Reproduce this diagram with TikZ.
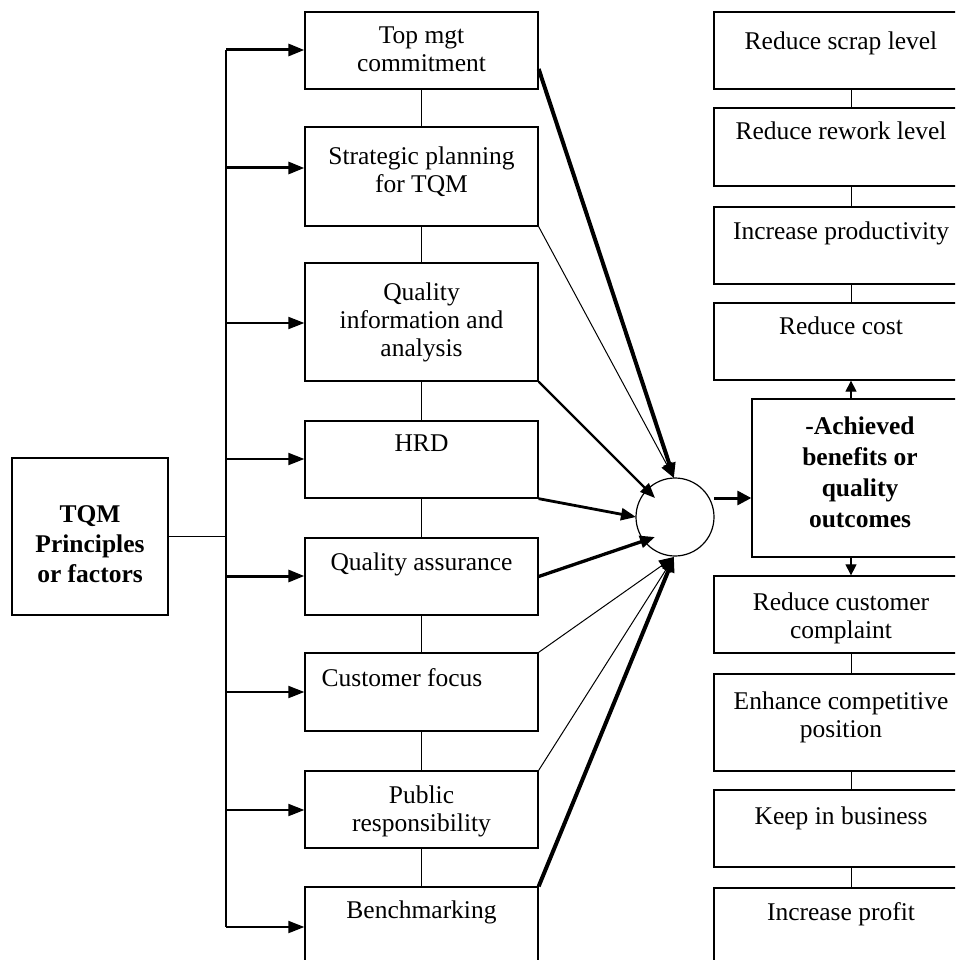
\documentclass[tikz,border=0pt]{standalone}
\usepackage{fontspec}
\setmainfont{Liberation Serif}
\usetikzlibrary{arrows.meta}
\begin{document}
\begin{tikzpicture}[x=1pt,y=-1pt,
  box/.style={draw, line width=1.3pt, rectangle, inner sep=0pt},
  lbox/.style={box, minimum width=233pt},
  rbox/.style={box, minimum width=274pt},
  txt/.style={anchor=north, inner sep=0pt, align=center, font=\fontsize{25.5}{28}\selectfont},
  btxt/.style={anchor=north, inner sep=0pt, align=center, font=\fontsize{25.5}{30}\selectfont\bfseries},
  link/.style={line width=1pt},
  feed/.style={-{Triangle[length=16pt,width=12pt]}},
  conv/.style={-{Triangle[length=15pt,width=12pt]}},
  vert/.style={line width=1.2pt, -{Triangle[length=11pt,width=11pt]}},
]
\useasboundingbox (0,0) rectangle (955,960);
\clip (0,0) rectangle (955,960);

% left column boxes
\node[lbox, minimum height=77pt]  (tm)  at (421.5,50.5)  {};
\node[lbox, minimum height=99pt]  (sp)  at (421.5,176.5) {};
\node[lbox, minimum height=118pt] (qi)  at (421.5,322)   {};
\node[lbox, minimum height=77pt]  (hrd) at (421.5,459.5) {};
\node[lbox, minimum height=77pt]  (qa)  at (421.5,576.5) {};
\node[lbox, minimum height=78pt]  (cf)  at (421.5,692)   {};
\node[lbox, minimum height=77pt]  (pr)  at (421.5,809.5) {};
\node[lbox, minimum height=113pt] (bm)  at (421.5,943.5) {};

\node[txt] (tmt)  at (421.5,27)  {Top mgt\\commitment};
\node[txt] (spt)  at (421.5,147) {Strategic planning\\for TQM};
\node[txt] (qit)  at (421.5,283) {Quality\\information and\\analysis};
\node[txt] (hrdt) at (421.5,435) {HRD};
\node[txt] (qat)  at (421.5,553) {Quality assurance};
\node[txt] (cft)  at (402,668)   {Customer focus};
\node[txt] (prt)  at (421.5,786) {Public\\responsibility};
\node[txt] (bmt)  at (421.5,901) {Benchmarking};

% TQM box
\node[box, minimum width=156pt, minimum height=157pt] (tqm) at (90,536.5) {};
\node[btxt] (tqmt) at (90,505) {TQM\\Principles\\or factors};

% right column boxes
\node[rbox, minimum height=77pt]  (scrap)  at (851,50.5)  {};
\node[rbox, minimum height=78pt]  (rework) at (851,147)   {};
\node[rbox, minimum height=77pt]  (prod)   at (851,245.5) {};
\node[rbox, minimum height=77pt]  (cost)   at (851,341.5) {};
\node[box, minimum width=238pt, minimum height=158pt] (ach) at (871,478) {};
\node[rbox, minimum height=77pt]  (comp)   at (851,614.5) {};
\node[rbox, minimum height=97pt]  (enh)    at (851,722.5) {};
\node[rbox, minimum height=77pt]  (keep)   at (851,828.5) {};
\node[rbox, minimum height=112pt] (profit) at (851,944)   {};

\node[txt] (scrapt)  at (841,32)  {Reduce scrap level};
\node[txt] (reworkt) at (841,122) {Reduce rework level};
\node[txt] (prodt)   at (841,222) {Increase productivity};
\node[txt] (costt)   at (841,317) {Reduce cost};
\node[btxt, font=\fontsize{25.5}{31}\selectfont\bfseries] (acht) at (860,417) {-Achieved\\benefits or\\quality\\outcomes};
\node[txt] (compt)   at (841,593) {Reduce customer\\complaint};
\node[txt] (enht)    at (841,692) {Enhance competitive\\position};
\node[txt] (keept)   at (841,807) {Keep in business};
\node[txt] (profitt) at (841,902) {Increase profit};

% circle
\node[draw, circle, minimum size=78pt, inner sep=0pt, line width=1.2pt] (c) at (675,517) {};

% vertical links between boxes
\foreach \a/\b in {tm/sp, sp/qi, qi/hrd, hrd/qa, qa/cf, cf/pr, pr/bm,
                   scrap/rework, rework/prod, prod/cost, comp/enh, enh/keep, keep/profit}
  \draw[link] (\a.south) -- (\b.north);

% bus
\coordinate (b1) at (226,50);
\coordinate (b2) at (226,168);
\coordinate (b3) at (226,323);
\coordinate (b4) at (226,459);
\coordinate (b5) at (226,576);
\coordinate (b6) at (226,692);
\coordinate (b7) at (226,810);
\coordinate (b8) at (226,927);
\draw[line width=1.5pt] (b1) -- (b8);
\draw[link] (tqm.east) -- (tqm.east -| b1);
\draw[feed, line width=3pt] (b1) -- (b1 -| tm.west);
\draw[feed, line width=3pt] (b2) -- (b2 -| sp.west);
\draw[feed, line width=2pt] (b3) -- (b3 -| qi.west);
\draw[feed, line width=2pt] (b4) -- (b4 -| hrd.west);
\draw[feed, line width=3pt] (b5) -- (b5 -| qa.west);
\draw[feed, line width=2pt] (b6) -- (b6 -| cf.west);
\draw[feed, line width=2pt] (b7) -- (b7 -| pr.west);
\draw[feed, line width=2pt] (b8) -- (b8 -| bm.west);

% converging arrows
\coordinate (tipTop) at (674,478);
\coordinate (tipQI)  at (655,498);
\coordinate (tipHRD) at (636,517);
\coordinate (tipQA)  at (655,537);
\coordinate (tipBot) at (674,557);
\draw[conv, line width=4pt]   ([yshift=-18.5pt]tm.east) -- (tipTop);
\draw[conv, line width=1pt]   (sp.south east) -- (tipTop);
\draw[conv, line width=2.3pt] (qi.south east) -- (tipQI);
\draw[conv, line width=2.8pt] (hrd.south east) -- (tipHRD);
\draw[conv, line width=3.3pt] (qa.east) -- (tipQA);
\draw[conv, line width=1pt]   (cf.north east) -- (tipBot);
\draw[conv, line width=1pt]   (pr.north east) -- (tipBot);
\draw[conv, line width=4pt]   (bm.north east) -- (tipBot);

% circle to outcomes
\coordinate (ya) at (714,498);
\draw[line width=3pt, -{Triangle[length=14pt,width=14pt]}] (ya) -- (ya -| ach.west);
\draw[vert] (ach.north -| cost.south) -- (cost.south);
\draw[vert] (ach.south -| comp.north) -- (comp.north);
\end{tikzpicture}
\end{document}
